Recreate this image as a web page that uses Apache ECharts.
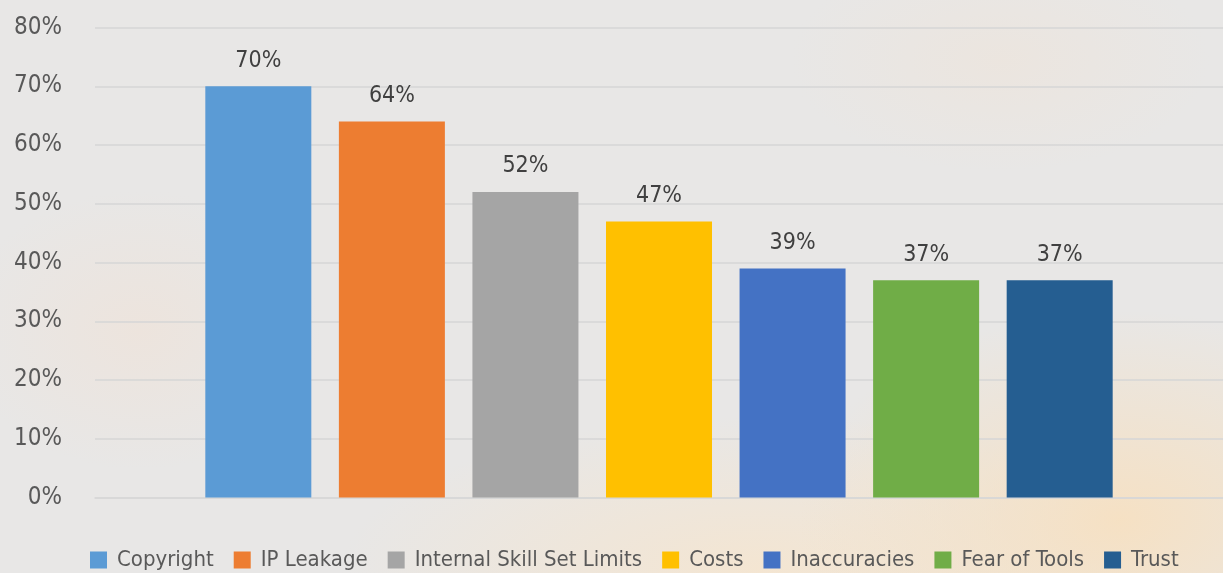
<!DOCTYPE html>
<html>
<head>
<meta charset="utf-8">
<script src="https://cdn.jsdelivr.net/npm/echarts@6/dist/echarts.min.js"></script>
<style>
  html, body { margin: 0; padding: 0; }
  body {
    width: 1223px; height: 573px; overflow: hidden;
    background:
      radial-gradient(ellipse 460px 300px at 1120px 520px, rgba(247,224,192,0.9), rgba(247,224,192,0) 70%),
      radial-gradient(ellipse 600px 220px at 760px 570px, rgba(246,229,206,0.85), rgba(246,229,206,0) 70%),
      radial-gradient(ellipse 260px 200px at 140px 330px, rgba(240,226,215,0.6), rgba(240,226,215,0) 70%),
      radial-gradient(ellipse 300px 160px at 1000px 60px, rgba(238,228,218,0.6), rgba(238,228,218,0) 70%),
      #e8e7e6;
  }
  #chart { width: 1223px; height: 573px; }
</style>
</head>
<body>
<div id="chart"></div>
<script>
// Reported barriers to adoption (% of respondents)
const seriesNames = ['Copyright', 'IP Leakage', 'Internal Skill Set Limits', 'Costs', 'Inaccuracies', 'Fear of Tools', 'Trust'];
const seriesValues = [70, 64, 52, 47, 39, 37, 37];
const seriesColors = ['#5B9BD5', '#ED7D31', '#A5A5A5', '#FFC000', '#4472C4', '#70AD47', '#255E91'];
const yTicks = [0, 10, 20, 30, 40, 50, 60, 70, 80];

const FONT = '"Liberation Sans Narrow", "DejaVu Sans Condensed", "Noto Sans", sans-serif';

const chart = echarts.init(document.getElementById('chart'), null, { renderer: 'canvas' });

const series = seriesNames.map((name, i) => ({
  name: name,
  type: 'bar',
  data: [seriesValues[i]],
  barWidth: 106,
  barGap: '26%',
  itemStyle: { color: seriesColors[i] },
  label: {
    show: true,
    position: 'top',
    distance: 14,
    formatter: p => p.value + '%',
    fontFamily: FONT,
    fontSize: 23,
    color: '#404040'
  }
}));

chart.setOption({
  backgroundColor: 'transparent',
  animation: false,
  textStyle: { fontFamily: FONT },
  grid: { left: 95, right: 0, top: 27.5, bottom: 75.5, containLabel: false },
  xAxis: {
    type: 'category',
    data: [''],
    axisLine: { show: true, lineStyle: { color: '#d6d6d6', width: 1.5 } },
    axisTick: { show: false },
    axisLabel: { show: false }
  },
  yAxis: {
    type: 'value',
    min: yTicks[0],
    max: yTicks[yTicks.length - 1],
    interval: 10,
    axisLine: { show: false },
    axisTick: { show: false },
    splitLine: { lineStyle: { color: '#d6d6d6', width: 1.5 } },
    axisLabel: {
      formatter: v => v + '%',
      fontFamily: FONT,
      fontSize: 24,
      color: '#595959',
      margin: 33
    }
  },
  legend: {
    data: seriesNames,
    bottom: -3,
    left: 85,
    itemWidth: 17,
    itemHeight: 17,
    itemGap: 20,
    icon: 'rect',
    textStyle: { fontFamily: FONT, fontSize: 22, color: '#595959', padding: [0, 0, 0, 5] }
  },
  series: series
});
</script>
</body>
</html>
